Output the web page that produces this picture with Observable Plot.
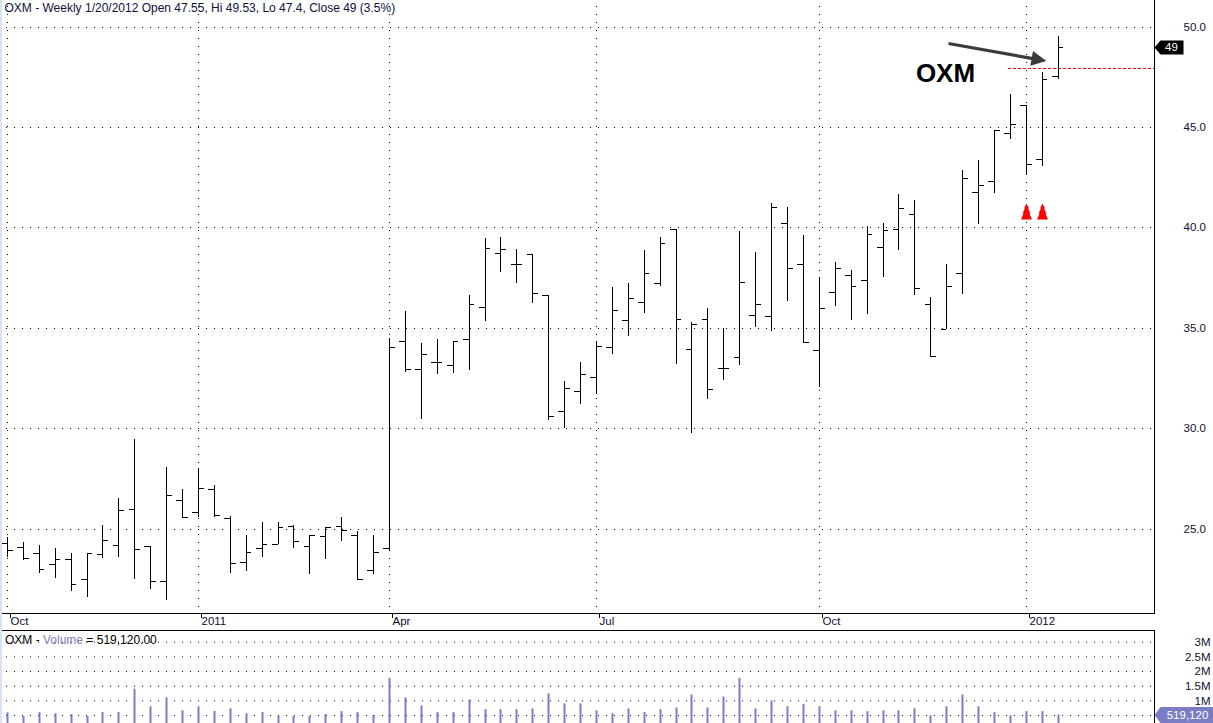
<!DOCTYPE html>
<html>
<head>
<meta charset="utf-8">
<script src="https://cdn.jsdelivr.net/npm/d3@7"></script>
<script src="https://cdn.jsdelivr.net/npm/@observablehq/plot@0.6"></script>
<style>
  html, body { margin: 0; padding: 0; background: #ffffff; }
  #wrap { position: relative; width: 1213px; height: 723px; overflow: hidden; background: #ffffff; font-family: "Liberation Sans", Arial, sans-serif; }
  #wrap svg { display: block; background: transparent; }
  #strip { position: absolute; left: 0; top: 0; width: 2px; height: 723px; background: #d6e5f5; }
  #volTitle { position: absolute; left: 5px; top: 633px; font-size: 12px; color: #000; white-space: pre; }
  #volTitle .v { color: #8080c4; }
</style>
</head>
<body>
<div id="wrap">
  <div id="strip"></div>
  <div id="price"></div>
  <div id="volume"></div>
  <div id="volTitle">OXM - <span class="v">Volume</span> = 519,120.00</div>
</div>
<script>
// ---------- data (weekly bars, Oct 2010 – Jan 20 2012) ----------
const opens  = [24.26,24.06,23.76,23.22,23.50,22.46,23.71,24.16,25.99,24.11,22.38,26.44,25.83,26.98,25.50,23.35,24.04,24.24,25.10,24.11,24.64,25.13,24.69,22.95,24.04,34.34,32.95,33.30,33.17,34.44,36.02,38.71,38.20,38.66,36.62,30.88,31.86,32.56,34.06,35.41,36.30,37.25,39.93,33.96,35.46,33.02,33.57,35.65,35.61,40.20,38.19,33.91,36.78,37.62,37.38,39.01,39.90,40.66,36.19,34.95,37.72,41.78,42.33,44.71,46.11,43.39,47.55];
const highs  = [24.60,24.31,24.17,24.01,23.80,23.76,25.18,26.53,29.46,24.11,28.07,26.98,28.02,27.15,25.61,24.70,25.33,25.33,25.18,24.69,25.05,25.59,24.89,24.70,34.51,35.84,34.26,34.46,34.36,36.63,39.46,39.55,38.91,38.66,36.62,32.36,33.30,34.36,37.01,37.21,38.86,39.54,39.93,35.31,36.01,34.97,39.80,38.76,41.23,41.03,39.63,37.53,38.27,37.87,40.05,40.21,41.65,41.35,36.55,38.17,42.84,43.34,44.88,46.66,46.11,47.73,49.53];
const lows   = [23.60,23.43,22.79,22.54,21.90,21.60,23.55,23.60,22.49,21.99,21.45,25.55,25.55,25.55,22.79,22.89,23.58,24.24,24.04,22.71,23.48,24.37,22.49,22.71,23.94,32.81,30.45,32.69,32.74,32.89,35.36,37.76,37.21,36.22,30.43,30.02,31.22,31.70,33.70,34.59,35.74,37.08,33.20,29.77,31.43,32.40,33.15,35.06,34.86,36.33,34.26,32.03,36.09,35.38,35.68,37.51,38.89,36.62,33.61,34.95,36.67,40.18,41.72,44.41,42.63,43.07,47.40];
const closes = [23.94,23.53,22.99,23.50,22.21,23.76,24.44,25.94,23.99,22.38,26.68,25.58,27.01,25.68,23.30,23.85,24.24,25.05,24.39,24.69,25.05,24.93,22.49,23.85,34.04,32.95,33.71,33.30,34.36,36.17,38.99,38.94,38.20,36.72,30.63,32.01,32.71,34.10,35.90,36.50,37.74,39.24,35.46,35.21,31.97,33.02,37.30,36.20,41.03,37.99,34.31,35.99,37.99,37.08,39.70,39.85,40.99,37.00,33.61,37.08,42.48,42.13,44.88,45.16,43.17,47.40,49.00];
const volumes = [590000,470000,600000,560000,530000,470000,600000,600000,1400000,800000,1100000,660000,800000,640000,730000,560000,600000,470000,470000,470000,530000,630000,600000,500000,1770000,1100000,830000,600000,600000,1030000,700000,700000,700000,730000,1240000,900000,900000,660000,560000,730000,600000,700000,760000,1200000,760000,1130000,1770000,730000,1000000,800000,870000,800000,660000,660000,630000,660000,660000,730000,490000,800000,1200000,800000,600000,490000,630000,630000,519120];

// x-axis: bar index of first bar of each labelled month
const monthIdx    = [0, 12, 24, 37, 51, 64];
const monthLabels = ["Oct", "2011", "Apr", "Jul", "Oct", "2012"];
const priceTicks  = [25, 30, 35, 40, 45, 50];
const volGrid     = [500000, 1000000, 1500000, 2000000, 2500000, 3000000];
const volTicks    = [1000000, 1500000, 2000000, 2500000, 3000000];

const headerText  = "OXM - Weekly 1/20/2012 Open 47.55, Hi 49.53, Lo 47.4, Close 49 (3.5%)";
const lastClose   = [49];
const lastVolume  = [519120];
const levelPrice  = [47.95];     // red dashed level
const levelFrom   = 62.88;       // bar index where the level starts
const signalBars  = [64, 65];    // red up arrows
const signalPrice = 40.82;
const labelText   = ["OXM"];
const labelPos    = {i: 58.93, p: 47.70};
const arrowFrom   = {i: 59.1, p: 49.18};
const arrowTo     = {i: 65.25, p: 48.31};

// ---------- layout ----------
const W = 1213, AXIS = 1154;
const xDomain = [-0.4334, 72.05];
const xRange = [0, AXIS];
const yDomain = [25, 50], yRange = [528.5, 26.8];
const FONT = '"Liberation Sans", Arial, sans-serif';

const bars = opens.map((o, i) => ({i, o, h: highs[i], l: lows[i], c: closes[i]}));
const vols = volumes.map((v, i) => ({i, v}));

// pixel helpers for the annotation arrow orientation (same mapping as the plot scales)
const xs = d3.scaleLinear(xDomain, xRange), ys = d3.scaleLinear(yDomain, yRange);

function tagSymbol(w, h) {
  return {draw(ctx) {
    const hh = h / 2;
    ctx.moveTo(0, 0); ctx.lineTo(6, -hh); ctx.lineTo(w, -hh); ctx.lineTo(w, hh); ctx.lineTo(6, hh); ctx.closePath();
  }};
}
const treeArrow = {draw(ctx) {
  ctx.moveTo(0, -8);
  ctx.lineTo(2.5, -3); ctx.lineTo(1.5, -3);
  ctx.lineTo(4, 2); ctx.lineTo(3, 2);
  ctx.lineTo(5.5, 8); ctx.lineTo(-5.5, 8);
  ctx.lineTo(-3, 2); ctx.lineTo(-4, 2);
  ctx.lineTo(-1.5, -3); ctx.lineTo(-2.5, -3);
  ctx.closePath();
}};
const bigArrow = (() => {
  const dx = xs(arrowTo.i) - xs(arrowFrom.i), dy = ys(arrowTo.p) - ys(arrowFrom.p);
  const L = Math.hypot(dx, dy), ux = dx / L, uy = dy / L, nx = -uy, ny = ux;
  const hw = 1.6, hl = 15, hh = 7.5, bx = ux * (L - hl), by = uy * (L - hl);
  return {draw(ctx) {
    ctx.moveTo(nx * hw, ny * hw);
    ctx.lineTo(bx + nx * hw, by + ny * hw);
    ctx.lineTo(bx + nx * hh, by + ny * hh);
    ctx.lineTo(ux * L, uy * L);
    ctx.lineTo(bx - nx * hh, by - ny * hh);
    ctx.lineTo(bx - nx * hw, by - ny * hw);
    ctx.lineTo(-nx * hw, -ny * hw);
    ctx.closePath();
  }};
})();

const dotted = {stroke: "#000", strokeOpacity: 1, strokeWidth: 1, strokeDasharray: "1,7", strokeDashoffset: 2};

const pricePlot = Plot.plot({
  width: W, height: 630,
  marginLeft: 0, marginRight: W - AXIS, marginTop: 0, marginBottom: 17,
  x: {domain: xDomain, range: xRange, round: true, axis: null},
  y: {domain: yDomain, range: yRange, round: true, axis: null},
  style: {fontFamily: FONT, background: "transparent", color: "#000"},
  marks: [
    Plot.gridY({ticks: priceTicks, ...dotted}),
    Plot.gridX({ticks: monthIdx, ...dotted}),
    Plot.frame({anchor: "bottom", stroke: "#000"}),
    Plot.frame({anchor: "right", stroke: "#000"}),
    Plot.axisX({anchor: "bottom", ticks: monthIdx, tickSize: 5, tickPadding: -2, label: null,
      tickFormat: d => monthLabels[monthIdx.indexOf(d)], textAnchor: "start", dx: 3,
      fontSize: 11.5, fill: "#101030", stroke: "#000"}),
    Plot.axisY({anchor: "right", ticks: priceTicks, tickSize: 0, tickPadding: 29, label: null,
      tickFormat: d3.format(".1f"), fontSize: 11.5, fill: "#101030"}),
    // OHLC bars
    Plot.ruleX(bars, {x: "i", y1: "l", y2: "h", stroke: "#000", strokeWidth: 1}),
    Plot.ruleY(bars, {x1: d => d.i - 0.36, x2: "i", y: "o", stroke: "#000", strokeWidth: 1}),
    Plot.ruleY(bars, {x1: "i", x2: d => d.i + 0.36, y: "c", stroke: "#000", strokeWidth: 1}),
    // annotations
    Plot.ruleY(levelPrice, {y: d => d, x1: levelFrom, x2: xDomain[1], stroke: "#ff0000", strokeWidth: 1, strokeDasharray: "3,2"}),
    Plot.dot(signalBars, {x: d => d, y: signalPrice, symbol: treeArrow, fill: "#ff0000", stroke: "none", r: 5}),
    Plot.dot([arrowFrom], {x: "i", y: "p", symbol: bigArrow, fill: "#3c3c3c", stroke: "none", r: 5}),
    Plot.text(labelText, {x: labelPos.i, y: labelPos.p, text: d => d, fontSize: 26, fontWeight: "bold", fill: "#000"}),
    Plot.dot(lastClose, {x: xDomain[1], y: d => d, symbol: tagSymbol(29, 14), fill: "#000", stroke: "none", r: 5}),
    Plot.text(lastClose, {x: xDomain[1], y: d => d, text: d => String(d), dx: 17, fill: "#fff", fontSize: 11.5}),
    Plot.text([headerText], {frameAnchor: "top-left", dx: 4, dy: 3, text: d => d, textAnchor: "start", lineAnchor: "top", fontSize: 12, fill: "#10103a"})
  ]
});
document.getElementById("price").appendChild(pricePlot);

const volPlot = Plot.plot({
  width: W, height: 93,
  marginLeft: 0, marginRight: W - AXIS, marginTop: 0, marginBottom: 0,
  x: {domain: xDomain, range: xRange, round: true, axis: null},
  y: {domain: [0, 3000000], range: [99.7, 11.7], axis: null},
  style: {fontFamily: FONT, background: "transparent", color: "#000"},
  marks: [
    Plot.gridY({ticks: volGrid, ...dotted}),
    Plot.ruleX(vols, {x: "i", y1: 0, y2: "v", stroke: "#7c7cc4", strokeWidth: 2}),
    Plot.frame({anchor: "top", stroke: "#000"}),
    Plot.frame({anchor: "right", stroke: "#000"}),
    Plot.axisY({anchor: "right", ticks: volTicks, tickSize: 0, tickPadding: 56, textAnchor: "end", label: null,
      tickFormat: d => (d / 1e6) + "M", fontSize: 11.5, fill: "#101030"}),
    Plot.dot(lastVolume, {x: xDomain[1], y: d => d, symbol: tagSymbol(59, 16), fill: "#7c7cc4", stroke: "none", r: 5}),
    Plot.text(lastVolume, {x: xDomain[1], y: d => d, text: d => d3.format(",")(d), dx: 33, fill: "#fff", fontSize: 11.5})
  ]
});
document.getElementById("volume").appendChild(volPlot);
</script>
</body>
</html>
